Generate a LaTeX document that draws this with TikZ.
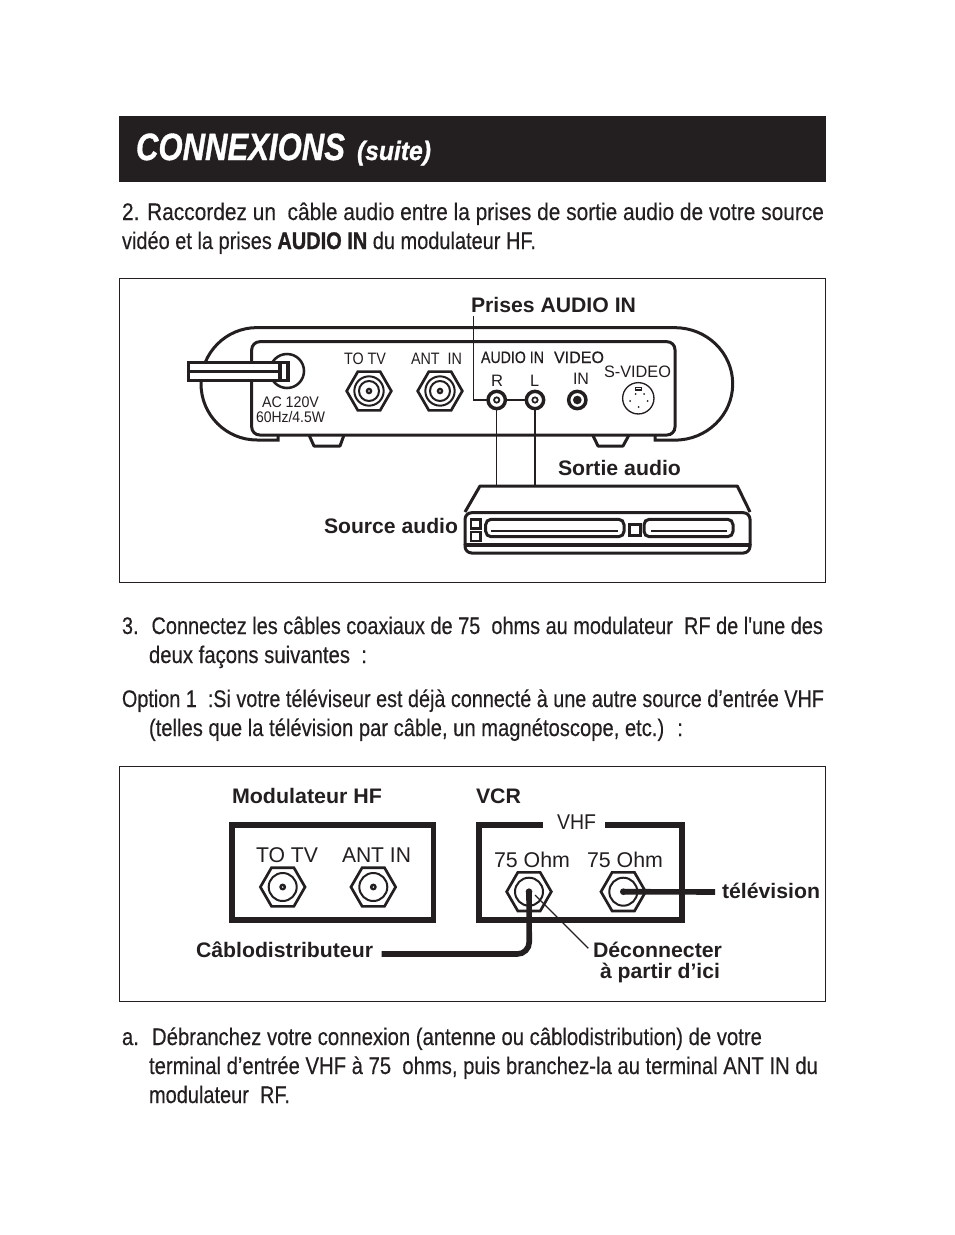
\documentclass[tikz,border=0pt]{standalone}
\usepackage{fontspec}
\usepackage{graphicx}
\setmainfont{Liberation Sans}[Ligatures=TeXOff]
\newfontfamily\bodyfam{Liberation Sans}[Ligatures=TeXOff,FakeBold=0.35]
\newfontfamily\heavyfam{Liberation Sans Bold}[Ligatures=TeXOff,FakeBold=1.2]
\newfontfamily\titlefam{Liberation Sans Bold Italic}[Ligatures=TeXOff,FakeBold=1]
\usetikzlibrary{shapes.geometric}
\definecolor{ink}{HTML}{231F20}
\newlength{\unitpx}\setlength{\unitpx}{0.75pt}
\newcommand{\fbody}{\bodyfam\fontsize{18}{18}\selectfont}
\newcommand{\flab}{\fontsize{15.75}{16}\selectfont\bfseries}
\newcommand{\fsm}{\fontsize{12.4}{13}\selectfont}
\newcommand{\fsn}{\fontsize{11.5}{12}\selectfont}
\newcommand{\fsb}{\bodyfam\fontsize{12.4}{13}\selectfont}
\newcommand{\fmd}{\fontsize{16}{16}\selectfont}
\newcommand{\tl}[5]{\node[txt,font=#4] (#1) at (#2) {\resizebox{#3\unitpx}{\height}{#5}};}
\tikzset{
  txt/.style={anchor=base west,inner sep=0pt,outer sep=0pt,text=ink},
  frame/.style={draw=ink,line width=0.75pt},
  bodyline/.style={draw=ink,line width=2.25pt},
  thinl/.style={draw=ink,line width=1pt},
  hexport/.style={regular polygon,regular polygon sides=6,draw=ink,line width=2pt,fill=white,minimum size=33.5pt,inner sep=0pt,outer sep=0pt},
  ring/.style={circle,draw=ink,fill=white,inner sep=0pt,outer sep=0pt},
  pin/.style={circle,fill=ink,inner sep=0pt,minimum size=1.5pt},
  heavy/.style={draw=ink,line width=3.9pt},
  cable/.style={draw=ink,line width=4.2pt},
}
\begin{document}
\begin{tikzpicture}[x=0.75pt,y=-0.75pt]
\useasboundingbox (0,0) rectangle (954,1235);
% header
\node[fill=ink,inner sep=0pt,outer sep=0pt,minimum width=530.25pt,minimum height=49.5pt,anchor=north west] (header) at (119,116) {};
\node[txt,text=white,font=\titlefam\fontsize{28.5}{29}\selectfont] (title) at (136,160) {\resizebox{209\unitpx}{\height}{CONNEXIONS}};
\node[txt,text=white,font=\titlefam\fontsize{20}{20}\selectfont] (suite) at (357,160) {\resizebox{74\unitpx}{\height}{(suite)}};
% body text
\tl{l1}{122,220}{702}{\fbody}{2. Raccordez un \ câble audio entre la prises de sortie audio de votre source}
\tl{l2}{122,249}{414}{\fbody}{vidéo et la prises {\heavyfam AUDIO IN} du modulateur HF.}
\tl{l3}{122,634}{701}{\fbody}{3. \ Connectez les câbles coaxiaux de 75 \ ohms au modulateur \ RF de l'une des}
\tl{l4}{149,663}{218}{\fbody}{deux façons suivantes \ :}
\tl{l5}{122,707}{702}{\fbody}{Option 1 \ :Si votre téléviseur est déjà connecté à une autre source d’entrée VHF}
\tl{l6}{149,736}{534}{\fbody}{(telles que la télévision par câble, un magnétoscope, etc.) \ :}
\tl{l7}{122,1045}{640}{\fbody}{a. \ Débranchez votre connexion (antenne ou câblodistribution) de votre}
\tl{l8}{149,1074}{669}{\fbody}{terminal d’entrée VHF à 75 \ ohms, puis branchez-la au terminal ANT IN du}
\tl{l9}{149,1103}{141}{\fbody}{modulateur \ RF.}
% first frame
\draw[frame] (119.5,278.5) rectangle (825.5,582.5);
% modulator body
\draw[bodyline] (278,436) -- (278,440) -- (257,440) arc[start angle=90,end angle=270,x radius=56,y radius=56.2] -- (675,327.7) arc[start angle=270,end angle=450,x radius=57.7,y radius=56.2] -- (655,440) -- (655,436);
\draw[bodyline,fill=white,rounded corners=6pt] (251.7,341.7) rectangle (675,435);
\draw[bodyline,line join=round] (309,435) -- (314,446) -- (340,446) -- (344,435);
\draw[bodyline,line join=round] (592.7,435) -- (598,446) -- (623,446) -- (629,435);
% power plug
\node[ring,line width=1.9pt,minimum size=25.5pt] (socket) at (287,371) {};
\draw[draw=ink,line width=2.4pt,fill=white] (188.5,362.5) rectangle (288,380.5);
\draw[draw=ink,line width=2.6pt] (188,371.3) -- (280,371.3);
\draw[draw=ink,line width=2.4pt] (280,362) -- (280,381);
% modulator labels
\tl{totv}{344,364}{42}{\fsm}{TO TV}
\tl{antin}{411,364}{51}{\fsm}{ANT \ IN}
\tl{ac}{262,407.5}{57}{\fsn}{AC 120V}
\tl{hz}{256,422}{69}{\fsn}{60Hz/4.5W}
\tl{audioin}{481,363}{63}{\fsb}{AUDIO IN}
\tl{video}{554,363}{50}{\fsb}{VIDEO}
\tl{r}{491,386}{12}{\fsm}{R}
\tl{l}{530,386}{9}{\fsm}{L}
\tl{vin}{573,384}{16}{\fsm}{IN}
\tl{svideo}{604,377}{67}{\fsm}{S-VIDEO}
% F connectors
\foreach \nm/\cx in {ptv/369,pant/440}{
  \node[hexport] (\nm) at (\cx,391) {};
  \node[ring,line width=1.5pt,minimum size=22pt] at (\cx,391) {};
  \node[ring,line width=1.5pt,minimum size=15pt] at (\cx,391) {};
  \node[circle,fill=ink,inner sep=0pt,minimum size=5pt] at (\cx,391) {};
  \node[circle,fill=white,inner sep=0pt,minimum size=1.2pt] at (\cx,391) {};
}
% connections and RCA jacks
\coordinate (leadtop) at (473.3,316);
\coordinate (leadcorner) at (473.3,400);
\node[ring,line width=2.6pt,minimum size=13pt] (pr) at (496.7,400) {};
\node[ring,line width=2.6pt,minimum size=13pt] (pl) at (535,400) {};
\node[ring,line width=2.6pt,minimum size=13pt] (pv) at (577.3,400) {};
\draw[thinl] (leadtop) -- (leadcorner) -- (pr.west);
\draw[thinl] (pr.east) -- (pl.west);
\node[ring,line width=1.3pt,minimum size=4pt,fill=white] at (496.7,400) {};
\node[ring,line width=1.3pt,minimum size=4pt,fill=white] at (535,400) {};
\node[circle,fill=ink,inner sep=0pt,minimum size=6.5pt] at (577.3,400) {};
% S-video
\node[ring,line width=1pt,minimum size=23.5pt] (ps) at (638.3,398.3) {};
\draw[draw=ink,line width=0.8pt] (635.3,387.5) rectangle (641.3,390);
\node[pin] at (630,401) {};
\node[pin] at (647.5,401) {};
\node[pin] at (635.5,394) {};
\node[pin] at (644,394) {};
\node[pin] at (638.5,407) {};
% labels
\tl{prises}{471,312}{165}{\flab}{Prises AUDIO IN}
\tl{sortie}{558,475}{123}{\flab}{Sortie audio}
\tl{source}{324,533}{134}{\flab}{Source audio}
% audio source device
\coordinate (devr) at (496.7,486);
\coordinate (devl) at (535,486);
\draw[thinl] (pr.south) -- (devr);
\draw[draw=ink,line width=1.4pt] (pl.south) -- (devl);
\draw[bodyline,line join=round] (465,512) -- (480,486) -- (737.3,486) -- (750,512);
\draw[bodyline,rounded corners=5pt] (465,545) -- (465,512.7) -- (750,512.7) -- (750,545);
\draw[bodyline,rounded corners=5pt] (465,544) -- (465,553) -- (750,553) -- (750,544);
\draw[draw=ink,line width=2.4pt] (464.5,545) -- (750.5,545);
\draw[bodyline,line width=1.8pt] (471,519.5) rectangle (480.5,528.5);
\draw[bodyline,line width=1.8pt] (471,532) rectangle (480.5,541);
\draw[bodyline,rounded corners=4pt] (485.7,519.3) rectangle (624,536.7);
\draw[draw=ink,line width=1.3pt] (490.7,530.7) -- (618,530.7);
\draw[bodyline] (629,524.5) rectangle (640,535);
\draw[bodyline,rounded corners=4pt] (644,519.3) rectangle (733,536.7);
\draw[draw=ink,line width=1.3pt] (651,530.7) -- (727,530.7);
% second frame
\draw[frame] (119.5,766.5) rectangle (825.5,1001.5);
\tl{modhf}{232,803}{150}{\flab}{Modulateur HF}
\tl{vcr}{476,803}{45}{\flab}{VCR}
\draw[heavy] (232,825) rectangle (433.5,920);
\tl{t2}{256,862}{62}{\fmd}{TO TV}
\tl{a2}{342,862}{69}{\fmd}{ANT IN}
\foreach \nm/\cx/\cy in {qtv/282.7/887,qant/373.3/887,qa/529/891.7,qb/623.3/891.7}{
  \node[hexport] (\nm) at (\cx,\cy) {};
  \node[ring,line width=1.5pt,minimum size=21pt] at (\cx,\cy) {};
}
\foreach \cx/\cy in {282.7/887,373.3/887}{
  \node[circle,fill=ink,inner sep=0pt,minimum size=5.2pt] at (\cx,\cy) {};
  \node[circle,fill=white,inner sep=0pt,minimum size=1.2pt] at (\cx,\cy) {};
}
\draw[heavy] (543,825) -- (479,825) -- (479,920) -- (682,920) -- (682,825) -- (605,825);
\tl{vhf}{557,829}{39}{\fmd}{VHF}
\tl{oa}{494,867}{76}{\fmd}{75 Ohm}
\tl{ob}{587,867}{76}{\fmd}{75 Ohm}
% cables
\coordinate (tvend) at (715,892);
\coordinate (cabend) at (381.5,954);
\coordinate (cabcorner) at (529.3,954);
\node[circle,fill=ink,inner sep=0pt,minimum size=5pt] (qbc) at (qb) {};
\node[circle,fill=ink,inner sep=0pt,minimum size=5pt] (qac) at (qa) {};
\draw[cable] (qbc.center) -- (tvend);
\draw[cable,rounded corners=9pt] (qac.center) -- (cabcorner) -- (cabend);
\coordinate (deca) at (535,895);
\coordinate (decb) at (588.3,948.3);
\draw[thinl] (deca) -- (decb);
\tl{cab}{196,957}{177}{\flab}{Câblodistributeur}
\tl{tele}{722,898}{98}{\flab}{télévision}
\tl{dec}{593,957}{129}{\flab}{Déconnecter}
\tl{apa}{600,978}{120}{\flab}{à partir d’ici}
\end{tikzpicture}
\end{document}
